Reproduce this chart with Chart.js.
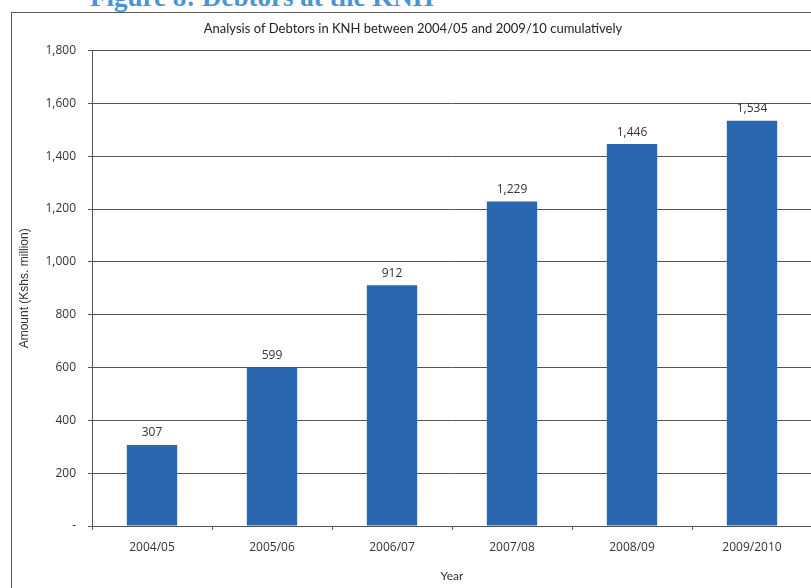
<!DOCTYPE html>
<html>
<head>
<meta charset="utf-8">
<script src="https://cdn.jsdelivr.net/npm/chart.js@4.4.1/dist/chart.umd.min.js"></script>
<style>
  html, body { margin: 0; padding: 0; background: #fff; overflow: hidden; width: 811px; height: 588px; }
  #heading {
    position: absolute; left: 90px; top: -16px; margin: 0;
    font-family: "Liberation Serif", serif; font-weight: bold; font-size: 27px; line-height: 27px;
    color: #4a94d4; white-space: nowrap;
  }
  #frame {
    position: absolute; left: 11px; top: 12px; width: 900px; height: 700px;
    border: 1px solid #5a5a5a; box-sizing: border-box;
  }
  #wrap { position: absolute; left: 0; top: 0; width: 830px; height: 588px; }
</style>
</head>
<body>
<div id="heading">Figure 8: Debtors at the KNH</div>
<div id="frame"></div>
<div id="wrap"><canvas id="chart"></canvas></div>
<script>
// Debtors at KNH, cumulative, Kshs. million
const years = ['2004/05', '2005/06', '2006/07', '2007/08', '2008/09', '2009/2010'];
const debtors = [307, 599, 912, 1229, 1446, 1534];
const yTicks = [0, 200, 400, 600, 800, 1000, 1200, 1400, 1600, 1800];

const fmt = v => v === 0 ? '-' : v.toLocaleString('en-US');

// value labels above each bar
const barValues = {
  id: 'barValues',
  afterDatasetsDraw(chart) {
    const ctx = chart.ctx;
    const meta = chart.getDatasetMeta(0);
    ctx.save();
    ctx.font = '12px "Open Sans", sans-serif';
    ctx.fillStyle = '#333';
    ctx.textAlign = 'center';
    ctx.textBaseline = 'middle';
    meta.data.forEach((bar, i) => {
      ctx.fillText(fmt(debtors[i]), bar.x, bar.y - 12);
    });
    ctx.restore();
  }
};

new Chart(document.getElementById('chart'), {
  type: 'bar',
  data: {
    labels: years,
    datasets: [{
      data: debtors,
      backgroundColor: '#2967ae',
      borderWidth: 0,
      categoryPercentage: 1,
      barPercentage: 0.42
    }]
  },
  options: {
    responsive: true,
    maintainAspectRatio: false,
    animation: false,
    layout: { padding: { left: 14, right: 18, top: 0, bottom: 0 } },
    plugins: {
      legend: { display: false },
      tooltip: { enabled: false },
      title: {
        display: true,
        text: 'Analysis of Debtors in KNH between 2004/05 and 2009/10 cumulatively',
        color: '#222',
        font: { family: 'Lato', size: 13, weight: 'normal' },
        padding: { top: 21, bottom: 14 }
      }
    },
    scales: {
      x: {
        afterFit(scale) { scale.height = 62; },
        grid: { drawOnChartArea: false, drawTicks: true, tickLength: 4, color: '#555', offset: true },
        border: { display: true, color: '#555', width: 1 },
        ticks: { color: '#333', padding: 10, font: { family: 'Open Sans', size: 12 } },
        title: { display: true, text: 'Year', color: '#333', font: { family: 'Lato', size: 12 }, padding: { top: 0, bottom: 5 } }
      },
      y: {
        min: 0, max: 1800,
        afterFit(scale) { scale.width = 78; },
        afterBuildTicks(scale) { scale.ticks = yTicks.map(v => ({ value: v })); },
        grid: { color: '#555', lineWidth: 1, drawTicks: true, tickLength: 4 },
        border: { display: true, color: '#555', width: 1 },
        ticks: { color: '#333', padding: 12, font: { family: 'Open Sans', size: 12 }, callback: v => fmt(v) },
        title: { display: true, text: 'Amount (Kshs. million)', color: '#333', font: { family: 'Liberation Sans', size: 12 }, padding: { top: 3, bottom: 0 } }
      }
    }
  },
  plugins: [barValues]
});
</script>
</body>
</html>
